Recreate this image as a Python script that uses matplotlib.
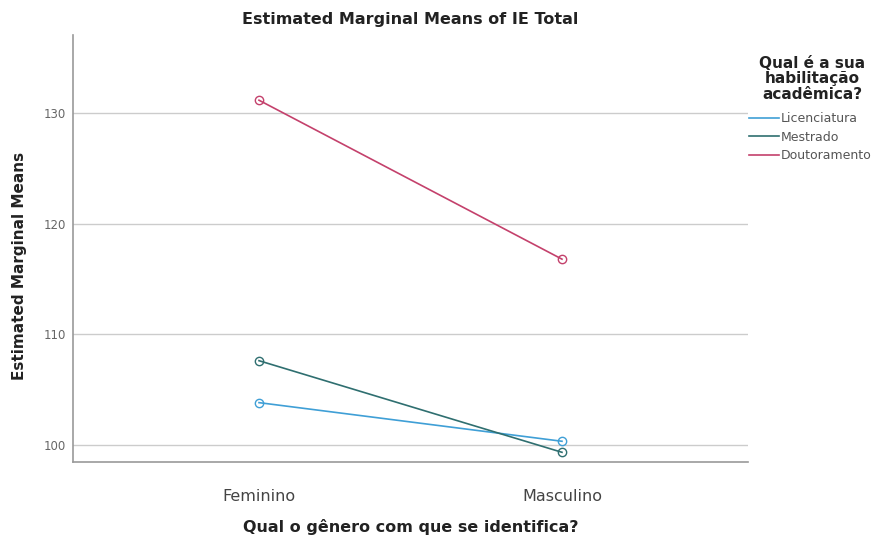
import matplotlib
matplotlib.use("Agg")
import matplotlib.pyplot as plt
from matplotlib.lines import Line2D

plt.rcParams['font.family'] = ['DejaVu Sans']

# data
genders = ["Feminino", "Masculino"]
groups = ["Licenciatura", "Mestrado", "Doutoramento"]
licenciatura = [103.8, 100.3]
mestrado = [107.6, 99.3]
doutoramento = [131.2, 116.8]
yticks = [100, 110, 120, 130]

colors = ["#3f9fd6", "#2f6f70", "#c4416c"]

fig = plt.figure(figsize=(8.79, 5.40), dpi=100)
ax = fig.add_axes([0.083, 0.144, 0.768, 0.791])

xpos = list(range(len(genders)))
for name, vals, c in zip(groups, [licenciatura, mestrado, doutoramento], colors):
    ax.plot(xpos, vals, color=c, lw=1.2, marker="o", markersize=6,
            markerfacecolor="none", markeredgecolor=c, markeredgewidth=1.0,
            label=name)

ax.set_xlim(-0.614, 1.614)
ax.set_ylim(98.4, 137.1)
ax.set_xticks(xpos)
ax.set_xticklabels(genders, fontsize=11.5, color="#444444")
ax.set_yticks(yticks)
ax.set_yticklabels([str(t) for t in yticks], fontsize=8.5, color="#666666")
ax.tick_params(axis="y", length=0, pad=5)
ax.tick_params(axis="x", length=0, pad=19)
ax.yaxis.grid(True, color="#cccccc", lw=1.0)
ax.set_axisbelow(True)
for s in ["top", "right"]:
    ax.spines[s].set_visible(False)
for s in ["left", "bottom"]:
    ax.spines[s].set_color("#999999")
    ax.spines[s].set_linewidth(1.2)

ax.set_title("Estimated Marginal Means of IE Total", fontsize=11.5,
             fontweight="bold", color="#222222", pad=8)
ax.set_xlabel("Qual o gênero com que se identifica?", fontsize=11.5,
              fontweight="bold", color="#222222", labelpad=11)
ax.set_ylabel("Estimated Marginal Means", fontsize=11, fontweight="bold",
              color="#222222")
ax.yaxis.set_label_coords(-0.068, 0.46)

# legend title drawn separately so it sits higher than the entries
fig.text(812 / 879, 1 - 79 / 540, "Qual é a sua\nhabilitação\nacadêmica?",
         ha="center", va="center", fontsize=11, fontweight="bold",
         color="#222222", linespacing=1.05)

handles = [Line2D([], [], color=c, lw=1.2) for c in colors]
leg = fig.legend(handles, groups, loc="upper left",
                 bbox_to_anchor=(749 / 879, 1 - 112 / 540), frameon=False,
                 fontsize=9, handlelength=2.4, handletextpad=0.15,
                 labelspacing=0.45, borderaxespad=0, borderpad=0)
for t in leg.get_texts():
    t.set_color("#555555")

fig.savefig("out.png", dpi=100)
